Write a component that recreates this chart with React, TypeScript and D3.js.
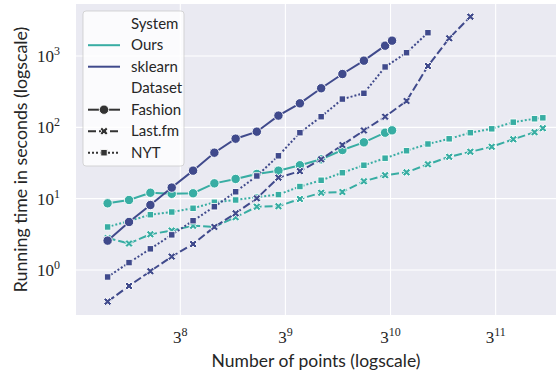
import React from 'react'
import * as d3 from 'd3'

const width = 556
const height = 374

// sample sizes (number of points)
const nSmall = [3070, 3840, 4800, 6000, 7500, 9370, 11700, 14600, 18300, 22900, 28600, 35700, 44700, 55800]
const nLarge = [69800, 87300, 109000, 136000, 170000, 213000, 266000]
const nFashionFull = 60000
const nBigFull = 290000

// running times in seconds
const oursFashion = [8.61, 9.58, 12.1, 11.7, 11.9, 16.4, 18.9, 22.2, 24.7, 29.4, 35.6, 48.1, 61.6, 84.1, 90.8]
const oursLastfm = [2.81, 2.35, 3.17, 3.57, 4.17, 4.03, 5.5, 7.71, 7.84, 9.89, 12.1, 12.4, 17.5, 21.3, 23.4, 30.3, 38.6, 45.4, 53.3, 68.0, 85.5, 97.2]
const oursNYT = [4.01, 4.86, 5.96, 6.5, 7.33, 8.9, 9.58, 10.5, 11.4, 14.8, 18.1, 23.1, 29.4, 36.9, 47.0, 58.4, 69.1, 84.1, 95.4, 118, 132, 136]
const skFashion = [2.58, 4.71, 8.15, 14.3, 24.7, 44.1, 69.3, 86.9, 146, 217, 353, 559, 860, 1395, 1640]
const skLastfm = [0.36, 0.597, 0.962, 1.54, 2.31, 4.01, 6.24, 10.1, 19.7, 24.3, 35.6, 56.5, 90.3, 141, 234, 724, 1771, 3557]
const skNYT = [0.798, 1.27, 1.98, 3.11, 4.91, 7.71, 12.5, 20.8, 39.9, 84.1, 141, 249, 300, 702, 1113, 2122]

const xTicks = [8, 9, 10, 11]
const yTicks = [0, 1, 2, 3]

const systems = ['Ours', 'sklearn']
const datasets = ['Fashion', 'Last.fm', 'NYT']
const colors: Record<string, string> = { Ours: '#38ada3', sklearn: '#404a8c' }
const dashes: Record<string, string> = { Fashion: 'none', 'Last.fm': '8,3', NYT: '2,2' }

const nFashion = [...nSmall, nFashionFull]
const nBig = [...nSmall, ...nLarge, nBigFull]

const series = [
  { system: 'Ours', dataset: 'Fashion', n: nFashion, t: oursFashion },
  { system: 'Ours', dataset: 'Last.fm', n: nBig, t: oursLastfm },
  { system: 'Ours', dataset: 'NYT', n: nBig, t: oursNYT },
  { system: 'sklearn', dataset: 'Fashion', n: nFashion, t: skFashion },
  { system: 'sklearn', dataset: 'Last.fm', n: nBig, t: skLastfm },
  { system: 'sklearn', dataset: 'NYT', n: nBig, t: skNYT },
]

const left = 76, right = 556, top = 4, bottom = 315

const x = d3.scaleLog().base(3).domain([Math.pow(3, 7.008), Math.pow(3, 11.574)]).range([left, right])
const y = d3.scaleLog().domain([Math.pow(10, -0.631), Math.pow(10, 3.729)]).range([bottom, top])

const sansFont = 'Lato, "Open Sans", sans-serif'
const serifFont = '"Liberation Serif", serif'

function Marker({ dataset, cx, cy, fill }: { dataset: string, cx: number, cy: number, fill: string }) {
  if (dataset === 'Fashion') {
    return <circle cx={cx} cy={cy} r={4.7} fill={fill} stroke="#fff" strokeWidth={0.9} />
  }
  if (dataset === 'Last.fm') {
    const p = d3.symbol(d3.symbolCross, 40)()
    return <path d={p || ''} transform={`translate(${cx},${cy}) rotate(45)`} fill={fill} stroke="#fff" strokeWidth={0.9} />
  }
  const p = d3.symbol(d3.symbolSquare, 42)()
  return <path d={p || ''} transform={`translate(${cx},${cy})`} fill={fill} stroke="#fff" strokeWidth={0.9} />
}

export default function App() {
  const line = d3.line<[number, number]>().x(d => x(d[0])).y(d => y(d[1]))

  const legendRows: { label: string, kind: string }[] = [
    { label: 'System', kind: 'head' },
    ...systems.map(s => ({ label: s, kind: 'system' })),
    { label: 'Dataset', kind: 'head' },
    ...datasets.map(s => ({ label: s, kind: 'dataset' })),
  ]

  return (
    <svg width={width} height={height} style={{ position: 'absolute', left: 0, top: 0, background: '#fff' }}>
      <defs>
        <clipPath id="plot"><rect x={left} y={top} width={right - left} height={bottom - top} /></clipPath>
      </defs>
      <rect x={left} y={top} width={right - left} height={bottom - top} fill="#eaeaf2" />
      {xTicks.map(k => (
        <line key={'gx' + k} x1={x(Math.pow(3, k))} x2={x(Math.pow(3, k))} y1={top} y2={bottom} stroke="#fff" strokeWidth={1.1} />
      ))}
      {yTicks.map(k => (
        <line key={'gy' + k} x1={left} x2={right} y1={y(Math.pow(10, k))} y2={y(Math.pow(10, k))} stroke="#fff" strokeWidth={1.1} />
      ))}

      <g clipPath="url(#plot)">
        {series.map(s => {
          const pts = s.t.map((v, i) => [s.n[i], v] as [number, number])
          return (
            <g key={s.system + s.dataset}>
              <path d={line(pts) || ''} fill="none" stroke={colors[s.system]} strokeWidth={2}
                strokeDasharray={dashes[s.dataset]} />
              {pts.map((p, i) => (
                <Marker key={i} dataset={s.dataset} cx={x(p[0])} cy={y(p[1])} fill={colors[s.system]} />
              ))}
            </g>
          )
        })}
      </g>

      {xTicks.map(k => (
        <text key={'tx' + k} x={x(Math.pow(3, k))} y={343} textAnchor="middle" fontFamily={serifFont} fontSize={17} fill="#262626">
          3<tspan dy={-7} fontSize={12}>{k}</tspan>
        </text>
      ))}
      {yTicks.map(k => (
        <text key={'ty' + k} x={60} y={y(Math.pow(10, k)) + 6} textAnchor="end" fontFamily={serifFont} fontSize={17} fill="#262626">
          10<tspan dy={-7} fontSize={12}>{k}</tspan>
        </text>
      ))}

      <text x={(left + right) / 2} y={367} textAnchor="middle" fontFamily={sansFont} fontSize={17.5} fill="#262626">
        Number of points (logscale)
      </text>
      <text transform={`translate(27,${(top + bottom) / 2}) rotate(-90)`} textAnchor="middle" fontFamily={sansFont} fontSize={17.8} fill="#262626">
        Running time in seconds (logscale)
      </text>

      <g>
        <rect x={83} y={11} width={101} height={155} rx={3} fill="#fff" fillOpacity={0.8} stroke="#cccccc" strokeOpacity={0.8} />
        {legendRows.map((r, i) => {
          const cy = 23.7 + i * 21.5
          return (
            <g key={r.label}>
              {r.kind === 'system' && (
                <line x1={88} x2={120} y1={cy} y2={cy} stroke={colors[r.label]} strokeWidth={2} />
              )}
              {r.kind === 'dataset' && (
                <g>
                  <line x1={88} x2={120} y1={cy} y2={cy} stroke="#333" strokeWidth={2} strokeDasharray={dashes[r.label]} />
                  <Marker dataset={r.label} cx={104} cy={cy} fill="#333" />
                </g>
              )}
              <text x={131} y={cy + 5} fontFamily={sansFont} fontSize={15} fill="#262626">{r.label}</text>
            </g>
          )
        })}
      </g>
    </svg>
  )
}
